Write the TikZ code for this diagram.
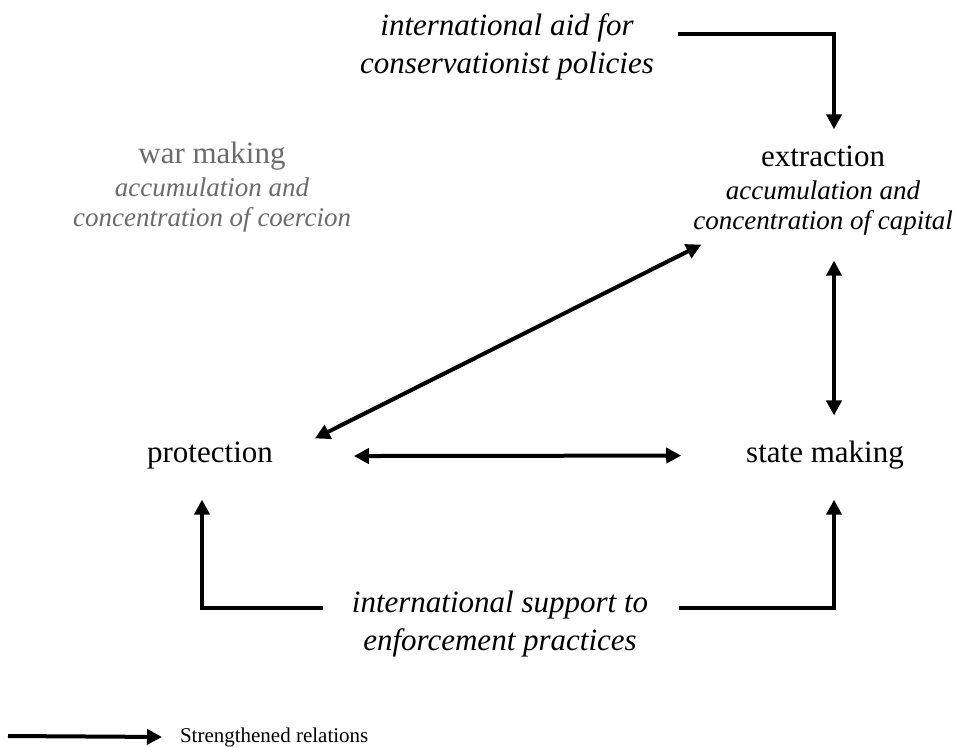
\documentclass[tikz,border=0pt]{standalone}
\usepackage{fontspec}
\setmainfont{Liberation Serif}[ItalicFont={Liberation Serif Italic}]
\usetikzlibrary{arrows.meta,calc,positioning}
\definecolor{wargray}{gray}{0.42}
\newcommand{\mainsize}{\fontsize{15.5}{19}\selectfont}
\newcommand{\subsize}{\fontsize{13.5}{15}\selectfont}

\begin{document}
\begin{tikzpicture}[x=0.5pt,y=-0.5pt,
		every node/.style={inner sep=0pt, outer sep=0pt},
		actor/.style={font=\mainsize, anchor=base},
		actorsub/.style={font=\subsize\itshape, align=center},
		intl/.style={font=\mainsize\itshape, align=center},
		rel/.style={line width=2pt},
		>={Triangle[length=7.5pt,width=7.5pt]}]
	\useasboundingbox (0,0) rectangle (956,747);

	% the four corners
	\node[actorsub, text=wargray] (war) at (212,187)
		{{\upshape\mainsize war making}\\[1.5pt] accumulation and\\ concentration of coercion};
	\node[actorsub] (extr) at (823,191)
		{{\upshape\mainsize extraction}\\[1.5pt] accumulation and\\ concentration of capital};
	\node[actor] (prot) at (210,463) {protection};
	\node[actor] (state) at (825,463) {state making};

	% international actors
	\node[intl] (aid) at (507,47) {international aid for\\ conservationist policies};
	\node[intl] (supp) at (500,624) {international support to\\ enforcement practices};

	% legend
	\coordinate (legstart) at (8,736);
	\node[font=\fontsize{10.5}{12}\selectfont, anchor=base west] (leg) at (180,742) {Strengthened relations};

	\draw[rel,->] ($(aid.east)+(24,-13)$) -| ($(extr.north)+(11,-17)$);
	\draw[rel,<->] ($(extr.south)+(11,25)$) -- ($(state.north)+(9,-26)$);
	\draw[rel,<->] ($(prot.east)+(81,0)$) -- ($(state.west)+(-65,0)$);
	\draw[rel,<->] ($(extr.south west)+(8,9)$) -- ($(prot.north east)+(42,-4)$);
	\draw[rel,->] ($(supp.west)+(-29,-16)$) -| ($(prot.south)+(-8,30)$);
	\draw[rel,->] ($(supp.east)+(31,-16)$) -| ($(state.south)+(9,30)$);
	\draw[rel,->] (legstart) -- ($(leg.west)+(-18,0)$);
\end{tikzpicture}
\end{document}
